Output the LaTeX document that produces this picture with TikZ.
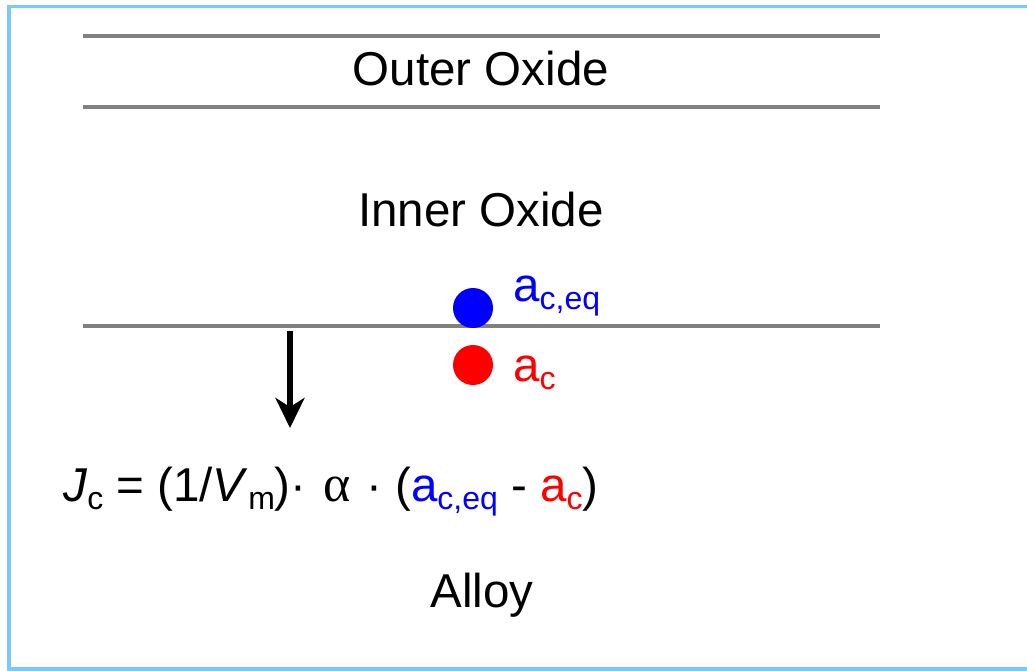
\documentclass[tikz,border=0pt]{standalone}
\usepackage{fontspec}
\setmainfont{Liberation Sans}
\newfontfamily\serifalpha{Liberation Serif}
\usetikzlibrary{arrows.meta}
\definecolor{borderblue}{RGB}{125,200,250}
\definecolor{layergray}{RGB}{128,128,128}
\definecolor{eqblue}{RGB}{0,0,255}
\definecolor{cred}{RGB}{255,0,0}
\newcommand\sbs[2][8pt]{\raisebox{-#1}{\fontsize{32}{34}\selectfont #2}}
\begin{document}
\begin{tikzpicture}[x=1pt,y=-1pt,
  layer/.style={draw=layergray,line width=4pt},
  lbl/.style={font=\fontsize{47.5}{50}\selectfont,inner sep=0pt},
  dotstyle/.style={circle,minimum size=40pt,inner sep=0pt},
  flux/.style={draw=black,line width=6pt,-{Stealth[length=30pt,width=29pt,inset=9pt]}}]
\useasboundingbox (0,0) rectangle (1027,671);
\draw[borderblue,line width=3.5pt] (1030,6.5) -- (9,6.5) -- (9,669) -- (1030,669);
\draw[layer] (83,36) -- (880,36);
\draw[layer] (83,107) -- (880,107);
\draw[layer] (83,326) -- (880,326);
\node[lbl,anchor=base] (outer) at (481,86) {Outer Oxide};
\node[lbl,anchor=base] (inner) at (481,226) {Inner Oxide};
\node[lbl,anchor=base] (alloy) at (482,607) {Alloy};
\node[dotstyle,fill=eqblue] (bdot) at (473,308) {};
\node[dotstyle,fill=cred] (rdot) at (473,365) {};
\node[lbl,anchor=base west,text=eqblue] (aceq) at (513,301) {a\sbs{c,eq}};
\node[lbl,anchor=base west,text=cred] (ac) at (513,381) {a\sbs{c}};
\coordinate (astart) at (290,331);
\coordinate (aend) at (290,428);
\draw[flux] (astart) -- (aend);
\node[lbl,anchor=base west] (flux) at (63,501) {\textit{J}\sbs{c} = (1/\textit{V}\sbs{m})·\hspace{4pt} {\serifalpha\fontsize{52}{54}\selectfont α}\hspace{2pt} · (\textcolor{eqblue}{a\sbs{c,eq}} - \textcolor{cred}{a\sbs{c}})};
\end{tikzpicture}
\end{document}
